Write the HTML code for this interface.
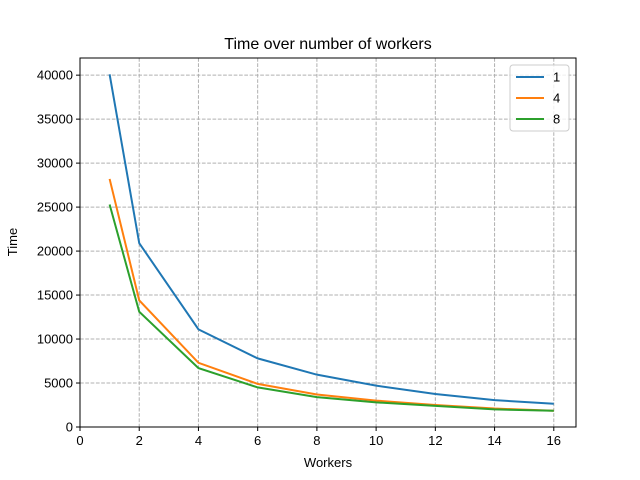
<!DOCTYPE html>
<html><head><meta charset="utf-8"><style>
body{margin:0;background:#fff;}
svg{display:block;font-family:"Liberation Sans","DejaVu Sans",sans-serif;}
</style></head><body>
<svg id="chart" width="640" height="480" viewBox="0 0 640 480">
<rect width="640" height="480" fill="#fff"/>
<text x="328" y="49" text-anchor="middle" font-size="16">Time over number of workers</text>
<g id="grid"></g>
<g id="series"></g>
<rect x="80" y="58" width="496" height="369" fill="none" stroke="#000" stroke-width="1"/>
<g id="ticks"></g>
<text x="328" y="467" text-anchor="middle" font-size="13">Workers</text>
<text x="17" y="242" text-anchor="middle" font-size="13" transform="rotate(-90 17 242)">Time</text>
<g id="legend"></g>
</svg>
<script>
const workers=[1,2,4,6,8,10,12,14,16];
const seriesNames=["1","4","8"];
const series1=[40100,20900,11100,7800,5950,4700,3750,3050,2650];
const series4=[28200,14400,7300,4900,3700,3000,2500,2100,1850];
const series8=[25300,13100,6700,4500,3400,2800,2400,2000,1850];
const xTicks=[0,2,4,6,8,10,12,14,16];
const yTicks=[0,5000,10000,15000,20000,25000,30000,35000,40000];
const colors=["#1f77b4","#ff7f0e","#2ca02c"];
const NS="http://www.w3.org/2000/svg";
const L=80,R=576,T=58,B=427,xMax=16.75,yMax=41950;
const sx=v=>L+v/xMax*(R-L);
const sy=v=>B-v/yMax*(B-T);
function mk(tag,attrs,parent){const e=document.createElementNS(NS,tag);for(const k in attrs)e.setAttribute(k,attrs[k]);parent.appendChild(e);return e;}
const grid=document.getElementById('grid'),ticks=document.getElementById('ticks');
xTicks.forEach(t=>{
  const x=sx(t);
  if(t>0){const g=mk('line',{x1:x,x2:x,y1:T,y2:B,stroke:'#b0b0b0','stroke-dasharray':'3.7,1.6','stroke-width':1},grid);
  
  }
  const tk=mk('line',{x1:x,x2:x,y1:B,y2:B+4,stroke:'#000'},ticks);
  
  
  const tx=mk('text',{x:x,y:B+18,'text-anchor':'middle','font-size':13},ticks);
  tx.textContent=t;
  
  
});
yTicks.forEach(t=>{
  const y=sy(t);
  if(t>0){const g=mk('line',{x1:L,x2:R,y1:y,y2:y,stroke:'#b0b0b0','stroke-dasharray':'3.7,1.6','stroke-width':1},grid);
  
  }
  const tk=mk('line',{x1:L-4,x2:L,y1:y,y2:y,stroke:'#000'},ticks);
  
  
  const tx=mk('text',{x:L-7,y:y+4.5,'text-anchor':'end','font-size':13},ticks);
  tx.textContent=t;
  
  
});
const sg=document.getElementById('series');
[series1,series4,series8].forEach((d,i)=>{
  const p=mk('polyline',{points:d.map((v,j)=>sx(workers[j])+','+sy(v)).join(' '),fill:'none',stroke:colors[i],'stroke-width':2},sg);
  
  
});
const lg=document.getElementById('legend');
const box=mk('rect',{x:510,y:65,width:59,height:66,rx:3,fill:'#fff','fill-opacity':0.8,stroke:'#ccc'},lg);


seriesNames.forEach((n,i)=>{
  const y=77+i*21;
  const l=mk('line',{x1:516,x2:544,y1:y,y2:y,stroke:colors[i],'stroke-width':2},lg);
  
  
  const t=mk('text',{x:553,y:y+4.5,'font-size':13},lg);
  t.textContent=n;
  
  
});
</script>
</body></html>
